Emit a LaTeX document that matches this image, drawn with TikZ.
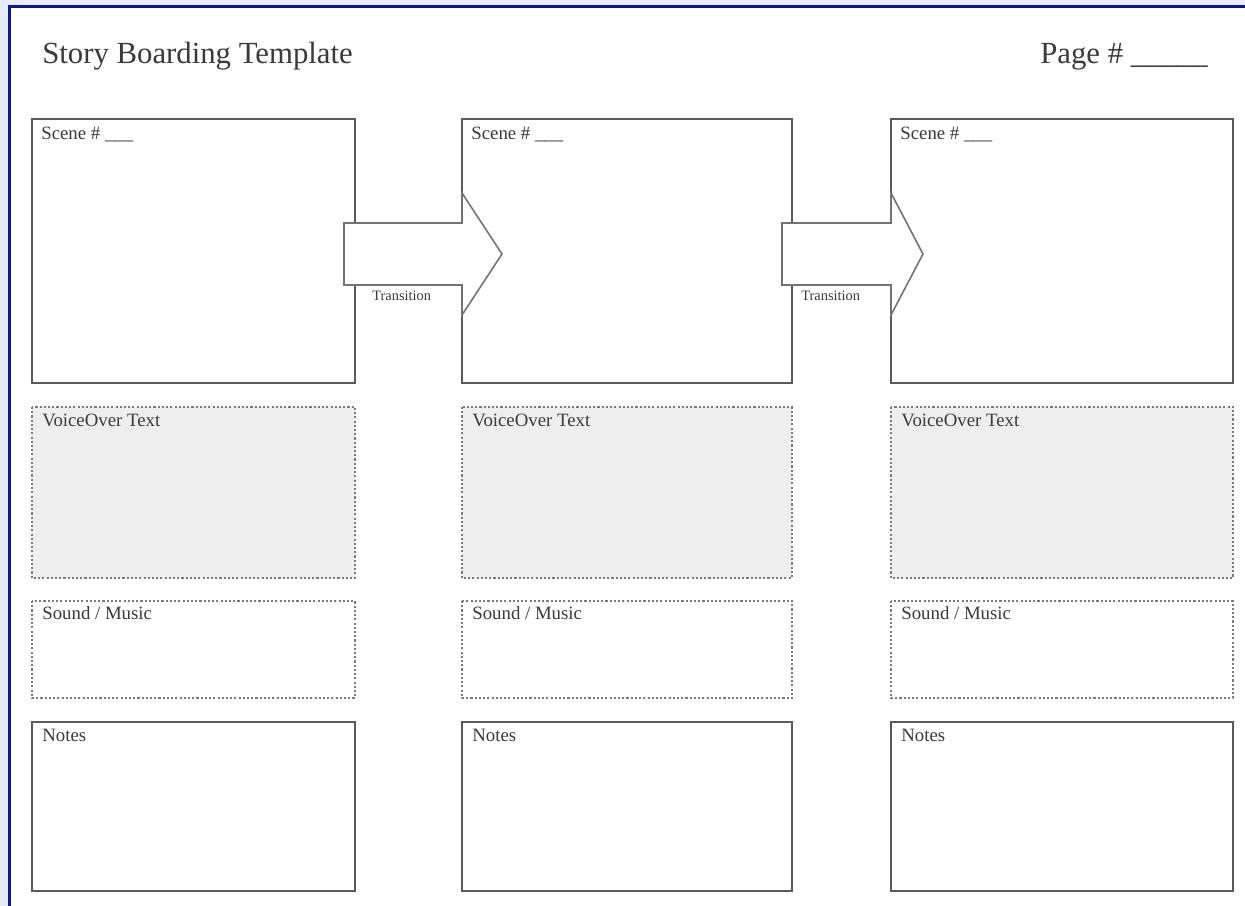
\documentclass[tikz,border=0pt]{standalone}
\usepackage{fontspec}
\setmainfont{Liberation Serif}
\definecolor{bgblue}{HTML}{E6EDF8}
\definecolor{navy}{HTML}{0B1A8A}
\definecolor{vofill}{HTML}{EEEEEE}
\definecolor{ink}{HTML}{3A3A3A}
\definecolor{edge}{HTML}{5A5A5A}
\begin{document}
\begin{tikzpicture}[x=0.02cm,y=-0.02cm,
  solidbox/.style={draw=edge,line width=1.1pt},
  dotbox/.style={draw=edge!80,line width=1.1pt,dash pattern=on 1.2pt off 1.2pt},
  lbl/.style={anchor=base west,inner sep=0pt,text=ink,font=\fontsize{10.7}{13}\selectfont},
  translbl/.style={anchor=base west,inner sep=0pt,text=ink,font=\fontsize{8.2}{9}\selectfont},
  bigtext/.style={anchor=base west,inner sep=0pt,text=ink,font=\fontsize{17.5}{20}\selectfont},
  arrowshape/.style={draw=edge!85,fill=white,line width=0.9pt,line join=miter}]
\useasboundingbox (0,0) rectangle (1245,906);
\fill[bgblue] (0,0) rectangle (1245,906);
\fill[navy] (8,5) rectangle (1245,906);
\fill[white] (11,8) rectangle (1245,906);
% title
\node[bigtext] (title) at (42,63) {Story Boarding Template};
\node[bigtext] (page) at (1040,63) {Page \# \_\_\_\_\_};
% columns
\foreach \c/\xa/\xb in {1/32/355, 2/462/792, 3/891/1233}{
  \draw[solidbox] (\xa,119) rectangle (\xb,383);
  \node[lbl] (scene\c) at (\xa+9,139) {Scene \# \_\_\_};
  \draw[dotbox,fill=vofill] (\xa,407) rectangle (\xb,578);
  \node[lbl] (vo\c) at (\xa+10,426) {VoiceOver Text};
  \draw[dotbox] (\xa,601) rectangle (\xb,698);
  \node[lbl] (sound\c) at (\xa+10,619) {Sound / Music};
  \draw[solidbox] (\xa,722) rectangle (\xb,891);
  \node[lbl] (notes\c) at (\xa+10,741) {Notes};
}
% transition arrows
\draw[arrowshape] (344,223) -- (462,223) -- (462,193) -- (502,254) -- (462,315) -- (462,285) -- (344,285) -- cycle;
\draw[arrowshape] (782,223) -- (891,223) -- (891,193) -- (923,254) -- (891,315) -- (891,285) -- (782,285) -- cycle;
\node[translbl] (t1) at (372,300) {Transition};
\node[translbl] (t2) at (801,300) {Transition};
\end{tikzpicture}
\end{document}
